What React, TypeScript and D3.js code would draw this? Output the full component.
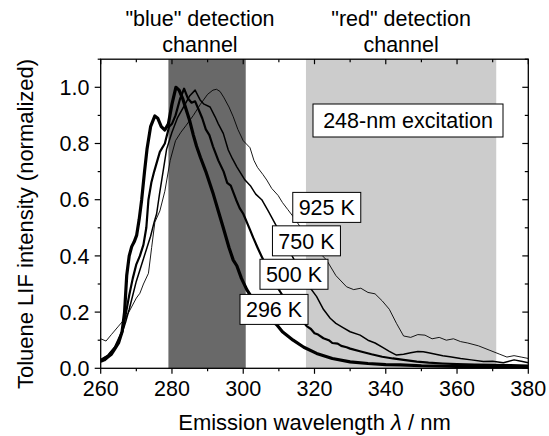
import React from "react";
import * as d3 from "d3";

// ---------- data ----------
const xTicks = [260, 280, 300, 320, 340, 360, 380];
const yTicks = [0.0, 0.2, 0.4, 0.6, 0.8, 1.0];

const bandBlue = [279, 300.7];
const bandRed = [317.6, 371];

const wl296 = [260, 261, 262, 263, 264, 265, 266, 266.7, 267.3, 268, 268.7, 269.4, 270.1, 270.8, 271.5, 272.3, 273, 274, 275.2, 276, 277, 278, 279, 280, 281.1, 282, 283, 284, 285, 286, 286.9, 288, 289.5, 291.6, 293, 294.4, 296, 297.2, 298.2, 299.5, 301, 302.5, 304, 306, 308, 309.4, 311, 314, 317, 320.6, 325, 330, 335, 340, 344, 350, 360, 370, 380];
const v296 = [0.025, 0.03, 0.04, 0.05, 0.07, 0.09, 0.13, 0.2, 0.33, 0.4, 0.433, 0.45, 0.474, 0.53, 0.6, 0.7, 0.78, 0.86, 0.898, 0.89, 0.86, 0.848, 0.87, 0.94, 1.0, 0.99, 0.96, 0.92, 0.88, 0.83, 0.79, 0.75, 0.7, 0.62, 0.56, 0.5, 0.43, 0.385, 0.365, 0.32, 0.28, 0.25, 0.225, 0.2, 0.17, 0.155, 0.13, 0.1, 0.075, 0.053, 0.035, 0.023, 0.017, 0.013, 0.012, 0.009, 0.007, 0.006, 0.005];

const wl500 = [260, 262, 264, 266, 267, 268, 269, 270, 271, 272, 272.8, 273.4, 274.2, 275, 276.6, 278, 279.2, 280, 281, 282.3, 283.4, 284.5, 285.5, 286.5, 287.5, 288.5, 289.5, 290.5, 291.5, 293, 294.5, 295.5, 296.5, 298, 299, 300, 301, 302, 302.8, 304, 305.2, 307, 309, 311, 313, 315, 316.5, 317.8, 319, 320, 321, 322.5, 324, 325, 326.5, 327.5, 329, 330, 333, 336, 339, 342, 345, 348.7, 352, 356, 360, 365, 370, 375, 380];
const v500 = [0.03, 0.045, 0.075, 0.13, 0.19, 0.26, 0.32, 0.37, 0.4, 0.44, 0.5, 0.6, 0.66, 0.7, 0.77, 0.8, 0.86, 0.87, 0.9, 0.96, 0.995, 0.96, 0.945, 0.95, 0.92, 0.89, 0.85, 0.83, 0.79, 0.74, 0.7, 0.66, 0.65, 0.6, 0.57, 0.55, 0.52, 0.49, 0.465, 0.43, 0.397, 0.35, 0.3, 0.26, 0.225, 0.19, 0.17, 0.15, 0.14, 0.125, 0.12, 0.107, 0.1, 0.09, 0.088, 0.08, 0.075, 0.07, 0.06, 0.05, 0.041, 0.035, 0.03, 0.024, 0.02, 0.017, 0.015, 0.013, 0.012, 0.011, 0.01];

const wl750 = [260, 262, 264, 266, 267, 268, 269, 270, 271, 272, 273, 274, 275, 275.7, 276.5, 277.5, 278.5, 280, 281.5, 283.7, 285, 286.5, 287.9, 289, 290.7, 292.1, 293, 294.4, 295.8, 297, 298.2, 299.5, 300.5, 302, 303.5, 305.2, 307, 309.4, 312, 315, 318, 320.6, 322.5, 324.4, 326, 328, 330, 332.8, 335, 337, 339, 341, 343, 345, 347, 349, 350.5, 352, 354, 356, 358, 361, 364, 367.4, 370, 373, 376, 378, 380];
const v750 = [0.03, 0.045, 0.075, 0.125, 0.165, 0.21, 0.26, 0.31, 0.35, 0.39, 0.43, 0.47, 0.52, 0.55, 0.62, 0.7, 0.78, 0.84, 0.89, 0.94, 0.97, 0.99, 0.955, 0.94, 0.93, 0.895, 0.87, 0.836, 0.777, 0.745, 0.717, 0.69, 0.67, 0.65, 0.62, 0.6, 0.56, 0.504, 0.44, 0.37, 0.3, 0.255, 0.21, 0.178, 0.16, 0.145, 0.13, 0.118, 0.1, 0.09, 0.075, 0.06, 0.047, 0.05, 0.055, 0.06, 0.059, 0.055, 0.05, 0.045, 0.041, 0.035, 0.03, 0.024, 0.025, 0.02, 0.03, 0.025, 0.02];

const wl925 = [260, 261.5, 263, 265, 267, 268.2, 270, 271, 272, 273.4, 274.3, 275.2, 276.6, 278, 279.5, 281, 282.5, 284, 286, 288, 290, 291.5, 292.5, 293.5, 294.5, 296, 297.2, 298.5, 300, 301.9, 303, 304, 305.5, 306.6, 308, 309.8, 311, 312.5, 314, 317.3, 320, 323.4, 326, 329, 331, 333, 335, 337, 339, 341, 343, 345, 347, 349, 351, 353, 355, 357, 359, 361, 363, 366, 369, 372, 374, 376, 378, 380];
const v925 = [0.105, 0.097, 0.12, 0.15, 0.18, 0.207, 0.25, 0.267, 0.3, 0.338, 0.43, 0.52, 0.56, 0.63, 0.74, 0.81, 0.84, 0.865, 0.9, 0.94, 0.975, 0.99, 0.993, 0.985, 0.965, 0.93, 0.895, 0.85, 0.81, 0.785, 0.74, 0.715, 0.69, 0.67, 0.64, 0.615, 0.59, 0.565, 0.54, 0.48, 0.43, 0.385, 0.33, 0.29, 0.28, 0.285, 0.27, 0.265, 0.24, 0.21, 0.16, 0.115, 0.11, 0.12, 0.118, 0.105, 0.11, 0.1, 0.105, 0.095, 0.09, 0.08, 0.065, 0.05, 0.04, 0.045, 0.04, 0.035];

const seriesNames = ["296 K", "500 K", "750 K", "925 K"];
const seriesWl = [wl296, wl500, wl750, wl925];
const seriesV = [v296, v500, v750, v925];
const seriesWidth = [3.2, 2.2, 1.5, 0.9];

// label box anchors (data coords: left wavelength, top value)
const labelWl = [299.1, 304.7, 308.2, 313.9];
const labelV = [0.263, 0.388, 0.507, 0.626];

const W = 549;
const H = 436;
const FONT = "'Liberation Sans', Arial, Helvetica, sans-serif";

export default function App() {
  const x = d3.scaleLinear().domain([260, 380]).range([100.7, 528.3]);
  const y = d3.scaleLinear().domain([0, 1.1]).range([368.3, 59.2]);
  const [x0, x1] = x.range();
  const [y0, y1] = y.range();

  const line = d3
    .line<[number, number]>()
    .x((d) => x(d[0]))
    .y((d) => y(d[1]))
    .curve(d3.curveLinear);

  const xMinor = d3.range(260, 381, 10);
  const yMinor = d3.range(0, 1.101, 0.1);
  const fs = 21.5;

  return (
    <svg
      width={W}
      height={H}
      style={{ position: "absolute", left: 0, top: 0, background: "#fff" }}
      fontFamily={FONT}
    >
      <defs>
        <clipPath id="plotclip">
          <rect x={x0} y={y1} width={x1 - x0} height={y0 - y1} />
        </clipPath>
      </defs>
      <rect x={0} y={0} width={W} height={H} fill="#fff" />
      {/* bands */}
      <rect x={x(bandBlue[0])} y={y1} width={x(bandBlue[1]) - x(bandBlue[0])} height={y0 - y1} fill="#696969" />
      <rect x={x(bandRed[0])} y={y1} width={x(bandRed[1]) - x(bandRed[0])} height={y0 - y1} fill="#cccccc" />

      {/* band titles */}
      <g fontSize={fs} textAnchor="middle" fill="#000">
        <text x={200} y={26}>"blue" detection</text>
        <text x={200} y={52}>channel</text>
        <text x={x((bandRed[0] + bandRed[1]) / 2)} y={26}>"red" detection</text>
        <text x={x((bandRed[0] + bandRed[1]) / 2)} y={52}>channel</text>
      </g>

      {/* spectra */}
      <g clipPath="url(#plotclip)" fill="none" stroke="#000" strokeLinejoin="round">
        {seriesWl.map((wl, i) => (
          <path
            key={seriesNames[i]}
            d={line(wl.map((w, j) => [w, seriesV[i][j]] as [number, number])) || ""}
            strokeWidth={seriesWidth[i]}
          />
        ))}
      </g>

      {/* frame */}
      <rect x={x0} y={y1} width={x1 - x0} height={y0 - y1} fill="none" stroke="#000" strokeWidth={1.3} />

      {/* x ticks */}
      <g stroke="#000" strokeWidth={1.2}>
        {xMinor.map((t) => {
          const major = t % 20 === 0;
          return (
            <g key={"xt" + t}>
              <line x1={x(t)} x2={x(t)} y1={y0} y2={y0 + (major ? 5.5 : 3)} />
              <line x1={x(t)} x2={x(t)} y1={y1} y2={y1 + (major ? 5 : 3)} />
            </g>
          );
        })}
        {yMinor.map((t, i) => {
          const major = i % 2 === 0;
          return (
            <g key={"yt" + i}>
              <line x1={x0} x2={x0 - (major ? 6 : 3)} y1={y(t)} y2={y(t)} />
              <line x1={x1} x2={x1 - (major ? 6 : 3.5)} y1={y(t)} y2={y(t)} />
            </g>
          );
        })}
      </g>
      <g fontSize={fs} fill="#000">
        {xTicks.map((t) => (
          <text key={"xl" + t} x={x(t)} y={396} textAnchor="middle">
            {t}
          </text>
        ))}
        {yTicks.map((t) => (
          <text key={"yl" + t} x={89.5} y={y(t) + 7.7} textAnchor="end">
            {t.toFixed(1)}
          </text>
        ))}
      </g>

      {/* axis titles */}
      <text x={(x0 + x1) / 2} y={430} fontSize={22} textAnchor="middle" fill="#000">
        Emission wavelength <tspan fontStyle="italic">λ</tspan> / nm
      </text>
      <text
        transform={`translate(33,224) rotate(-90)`}
        fontSize={22}
        textAnchor="middle"
        fill="#000"
      >
        Toluene LIF intensity (normalized)
      </text>

      {/* excitation box */}
      <rect x={313} y={104} width={190} height={33} fill="#fff" stroke="#000" strokeWidth={1} />
      <text x={408} y={127.5} fontSize={fs} textAnchor="middle" fill="#000">
        248-nm excitation
      </text>

      {/* temperature labels */}
      {seriesNames.map((n, i) => {
        const bx = x(labelWl[i]);
        const by = y(labelV[i]);
        return (
          <g key={"lab" + n}>
            <rect x={bx} y={by} width={68} height={30} fill="#fff" stroke="#000" strokeWidth={1} />
            <text x={bx + 34} y={by + 23} fontSize={fs} textAnchor="middle" fill="#000">
              {n}
            </text>
          </g>
        );
      })}
    </svg>
  );
}
